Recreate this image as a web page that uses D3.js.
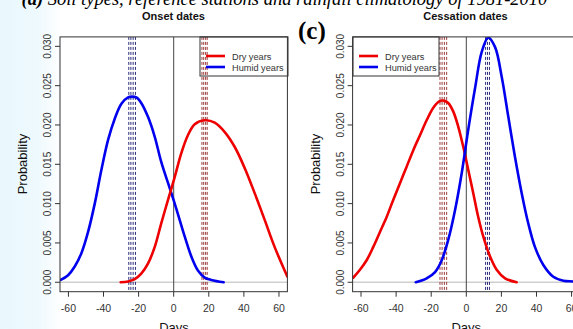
<!DOCTYPE html>
<html>
<head>
<meta charset="utf-8">
<script src="https://cdn.jsdelivr.net/npm/d3@7"></script>
<style>
  html, body { margin: 0; padding: 0; background: #ffffff; }
  svg { display: block; font-family: "Liberation Sans", Arial, sans-serif; }
</style>
</head>
<body>
<svg id="chart" width="573" height="329"></svg>
<script>
// ---------------- DATA ----------------
const xTicks = [-60, -40, -20, 0, 20, 40, 60];
const xTickLabels = ["-60", "-40", "-20", "0", "20", "40", "60"];
const yTicks = [0, 0.005, 0.010, 0.015, 0.020, 0.025, 0.030];
const yTickLabels = ["0.000", "0.005", "0.010", "0.015", "0.020", "0.025", "0.030"];
const seriesNames = ["Dry years", "Humid years"];
const panelTitles = ["Onset dates", "Cessation dates"];

// Onset dates – humid years (blue)
const onsetHumidDays = [-64.4, -60.2, -56.4, -52.6, -48.8, -45.0, -41.2, -37.4, -33.6, -29.8, -26.0, -23.8, -21.3, -18.5, -14.6, -10.8, -7.1, -3.2, -0.4, 2.5, 6.3, 10.0, 13.8, 17.7, 21.4, 28.5];
const onsetHumidProb = [0.0003, 0.0009, 0.0020, 0.0037, 0.0064, 0.0100, 0.0143, 0.0181, 0.0208, 0.0227, 0.0235, 0.0236, 0.0235, 0.0228, 0.0210, 0.0185, 0.0153, 0.0126, 0.0107, 0.0086, 0.0058, 0.0033, 0.0015, 0.0006, 0.0003, 0.0000];

// Onset dates – dry years (red)
const onsetDryDays = [-30.2, -26.0, -22.2, -18.5, -14.6, -10.8, -7.1, -3.2, 0.6, 4.3, 8.1, 12.0, 17.7, 23.4, 29.1, 34.8, 40.5, 46.2, 51.9, 57.5, 64.8];
const onsetDryProb = [0.0000, 0.0001, 0.0004, 0.0011, 0.0024, 0.0045, 0.0075, 0.0105, 0.0134, 0.0164, 0.0187, 0.0201, 0.0206, 0.0203, 0.0191, 0.0172, 0.0145, 0.0113, 0.0079, 0.0045, 0.0007];

// Cessation dates – dry years (red)
const cessDryDays = [-64.4, -60.6, -56.8, -53.0, -49.2, -45.4, -41.6, -37.8, -34.0, -30.2, -26.4, -22.6, -18.8, -15.4, -13.1, -10.3, -7.4, -4.6, -1.7, 1.1, 4.0, 6.8, 9.7, 13.5, 17.3, 22.1, 28.7];
const cessDryProb = [0.0006, 0.0016, 0.0028, 0.0045, 0.0064, 0.0083, 0.0105, 0.0126, 0.0147, 0.0168, 0.0187, 0.0206, 0.0222, 0.0230, 0.0231, 0.0228, 0.0217, 0.0198, 0.0172, 0.0143, 0.0113, 0.0083, 0.0058, 0.0033, 0.0016, 0.0005, 0.0000];

// Cessation dates – humid years (blue)
const cessHumidDays = [-28.8, -22.6, -17.8, -14.0, -10.3, -6.4, -2.6, 1.1, 5.0, 8.8, 12.5, 16.4, 20.2, 23.9, 27.7, 31.6, 35.3, 39.1, 43.9, 49.6, 55.3, 60.8, 64.8];
const cessHumidProb = [0.0000, 0.0005, 0.0013, 0.0028, 0.0054, 0.0092, 0.0139, 0.0194, 0.0247, 0.0293, 0.0311, 0.0299, 0.0261, 0.0211, 0.0160, 0.0113, 0.0075, 0.0045, 0.0022, 0.0007, 0.0002, 0.0001, 0.0000];

// Vertical dashed reference lines (days)
const onsetHumidRefs = [-25.6, -24.4, -23.1, -21.8];
const onsetDryRefs = [16.1, 17.1, 18.2, 19.1];
const cessDryRefs = [-15.0, -13.8, -12.5, -11.2];
const cessHumidRefs = [11.0, 12.1, 13.2];

const captionBold = "(a)";
const captionText = " Soil types, reference stations and rainfall climatology of 1981-2010";
const panelLetter = "(c)";

// ---------------- DRAWING ----------------
const svg = d3.select("#chart");
const RED = "#ee0000", BLUE = "#0000ee";
const RED_REF = "#9b3b3b", BLUE_REF = "#2b2b7b";
const SERIF = "'Liberation Serif', 'Times New Roman', serif";

// background tint on the left
const defs = svg.append("defs");
const grad = defs.append("linearGradient").attr("id", "bgGrad")
  .attr("x1", "0").attr("x2", "1").attr("y1", "0").attr("y2", "0");
grad.append("stop").attr("offset", "0").attr("stop-color", "#e9f8fd");
grad.append("stop").attr("offset", "0.6").attr("stop-color", "#eef9fd");
grad.append("stop").attr("offset", "1").attr("stop-color", "#ffffff");
svg.append("rect").attr("x", 0).attr("y", 0).attr("width", 573).attr("height", 329).attr("fill", "#ffffff");
svg.append("rect").attr("x", 0).attr("y", 0).attr("width", 62).attr("height", 329).attr("fill", "url(#bgGrad)");

const y = d3.scaleLinear().domain([-0.0012, 0.0312]).range([291.7, 36.9]);

function zip(a, b) { return a.map((d, i) => ({ x: d, y: b[i] })); }

const panels = [
  { x0: 60.0, x1: 287.4, title: panelTitles[0],
    curves: [ { pts: zip(onsetHumidDays, onsetHumidProb), color: BLUE },
              { pts: zip(onsetDryDays, onsetDryProb), color: RED } ],
    refs: [ { v: onsetHumidRefs, color: BLUE_REF }, { v: onsetDryRefs, color: RED_REF } ],
    legend: { x: 200, w: 88 } },
  { x0: 352.6, x1: 580.0, title: panelTitles[1],
    curves: [ { pts: zip(cessDryDays, cessDryProb), color: RED },
              { pts: zip(cessHumidDays, cessHumidProb), color: BLUE } ],
    refs: [ { v: cessDryRefs, color: RED_REF }, { v: cessHumidRefs, color: BLUE_REF } ],
    legend: { x: 353, w: 86 } }
];

panels.forEach((p, pi) => {
  const x = d3.scaleLinear().domain([-64.8, 64.8]).range([p.x0, p.x1]);
  const g = svg.append("g");
  const top = y.range()[1], bot = y.range()[0];
  const cid = "clip" + pi;
  defs.append("clipPath").attr("id", cid).append("rect")
    .attr("x", p.x0).attr("y", top).attr("width", p.x1 - p.x0).attr("height", bot - top);

  g.append("rect").attr("x", p.x0).attr("y", top).attr("width", p.x1 - p.x0).attr("height", bot - top)
    .attr("fill", "#ffffff");

  const inner = g.append("g").attr("clip-path", `url(#${cid})`);
  inner.append("line").attr("x1", p.x0).attr("x2", p.x1).attr("y1", y(0)).attr("y2", y(0))
    .attr("stroke", "#cfcfcf").attr("stroke-width", 1.5);
  inner.append("line").attr("x1", x(0)).attr("x2", x(0)).attr("y1", top).attr("y2", bot)
    .attr("stroke", "#444").attr("stroke-width", 1);
  p.refs.forEach(r => {
    inner.selectAll(null).data(r.v).enter().append("line")
      .attr("x1", d => x(d)).attr("x2", d => x(d)).attr("y1", top).attr("y2", bot)
      .attr("stroke", r.color).attr("stroke-width", 1).attr("stroke-dasharray", "3,2");
  });
  const line = d3.line().x(d => x(d.x)).y(d => y(d.y)).curve(d3.curveCatmullRom.alpha(0.5));
  p.curves.forEach(c => {
    inner.append("path").attr("d", line(c.pts)).attr("fill", "none")
      .attr("stroke", c.color).attr("stroke-width", 2.6).attr("stroke-linejoin", "round").attr("stroke-linecap", "round");
  });

  g.append("rect").attr("x", p.x0).attr("y", top).attr("width", p.x1 - p.x0).attr("height", bot - top)
    .attr("fill", "none").attr("stroke", "#333").attr("stroke-width", 1);

  const xa = g.append("g");
  xa.selectAll("line.tk").data(xTicks).enter().append("line")
    .attr("x1", d => x(d)).attr("x2", d => x(d)).attr("y1", bot).attr("y2", bot + 5)
    .attr("stroke", "#333");
  xa.selectAll("text").data(xTicks).enter().append("text")
    .attr("x", d => x(d)).attr("y", 311.5).attr("text-anchor", "middle")
    .style("font-size", "10.5px").attr("fill", "#333").text((d, i) => xTickLabels[i]);

  const ya = g.append("g");
  ya.selectAll("line.tk").data(yTicks).enter().append("line")
    .attr("x1", p.x0 - 5).attr("x2", p.x0).attr("y1", d => y(d)).attr("y2", d => y(d))
    .attr("stroke", "#333");
  ya.selectAll("text").data(yTicks).enter().append("text")
    .attr("transform", d => `translate(${p.x0 - 9},${y(d)}) rotate(-90)`)
    .attr("text-anchor", "middle").style("font-size", "10px").attr("fill", "#333")
    .text((d, i) => yTickLabels[i]);

  g.append("text").attr("transform", `translate(${p.x0 - 33},${164}) rotate(-90)`)
    .attr("text-anchor", "middle").style("font-size", "13px").attr("fill", "#111").text("Probability");
  g.append("text").attr("x", pi === 0 ? 174 : 466.3).attr("y", 332)
    .attr("text-anchor", "middle").style("font-size", "13px").attr("fill", "#111").text("Days");

  g.append("text").attr("x", pi === 0 ? 173.5 : 465.5).attr("y", 20)
    .attr("text-anchor", "middle").style("font-size", "11px").style("font-weight", "bold").attr("fill", "#111")
    .text(p.title);

  const L = p.legend;
  g.append("rect").attr("x", L.x).attr("y", top).attr("width", L.w).attr("height", 76 - top)
    .attr("fill", "none").attr("stroke", "#333").attr("stroke-width", 1);
  const lg = [ { name: seriesNames[0], color: RED, yy: 56 }, { name: seriesNames[1], color: BLUE, yy: 67 } ];
  lg.forEach(it => {
    g.append("line").attr("x1", L.x + 6).attr("x2", L.x + 25).attr("y1", it.yy).attr("y2", it.yy)
      .attr("stroke", it.color).attr("stroke-width", 2.6);
    g.append("text").attr("x", L.x + 32).attr("y", it.yy + 3.5).style("font-size", "9.2px").attr("fill", "#333")
      .text(it.name);
  });
});

// caption at top (cut off)
const cap = svg.append("text").attr("x", 21.5).attr("y", 5)
  .style("font-family", SERIF)
  .style("font-style", "italic").style("font-size", "18.5px").attr("fill", "#000");
cap.append("tspan").style("font-weight", "bold").text(captionBold);
cap.append("tspan").text(captionText);

// panel letter
svg.append("text").attr("x", 298).attr("y", 39)
  .style("font-family", SERIF)
  .style("font-weight", "bold").style("font-size", "25px").attr("fill", "#000").text(panelLetter);
</script>
</body>
</html>
